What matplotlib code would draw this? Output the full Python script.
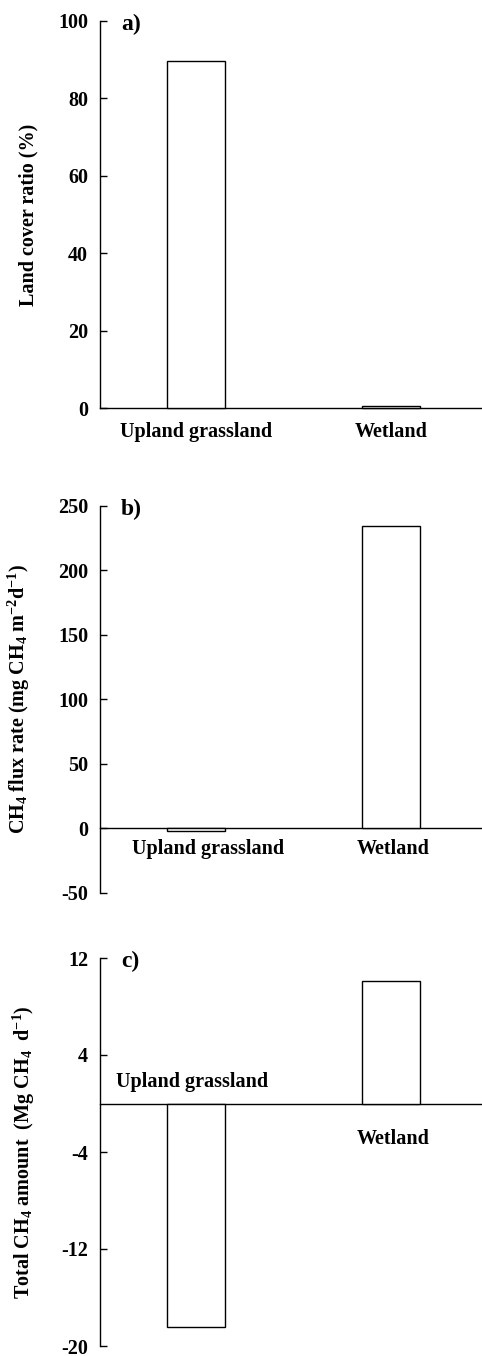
import matplotlib
matplotlib.use('Agg')
import matplotlib.pyplot as plt

plt.rcParams['font.family'] = 'Liberation Serif'
plt.rcParams['font.weight'] = 'bold'
plt.rcParams['axes.unicode_minus'] = False
plt.rcParams['mathtext.fontset'] = 'custom'
plt.rcParams['mathtext.rm'] = 'Liberation Serif:bold'
plt.rcParams['mathtext.it'] = 'Liberation Serif:bold'
plt.rcParams['mathtext.bf'] = 'Liberation Serif:bold'
plt.rcParams['mathtext.default'] = 'rm'

# Data
categories = ['Upland grassland', 'Wetland']
land_cover = [89.7, 0.5]          # %
flux_rate = [-1.8, 234.3]         # mg CH4 m-2 d-1
total_amount = [-18.4, 10.1]      # Mg CH4 d-1

x = [0, 1]
FS = 14.5

fig = plt.figure(figsize=(4.82, 13.56), dpi=100)
H = 1356.0
W = 482.0
left = 100 / W
width = 1.0 - left


def make_axes(top_px, bottom_px):
    return fig.add_axes([left, 1 - bottom_px / H, width, (bottom_px - top_px) / H])


panels = [
    dict(ax=make_axes(21, 408), vals=land_cover, ylim=(0, 100), yticks=[0, 20, 40, 60, 80, 100],
         ylabel='Land cover ratio (%)', tag='a)', lab_x=-0.162,
         label_offsets=[(0, -24), (0, -24)]),
    dict(ax=make_axes(505.7, 893), vals=flux_rate, ylim=(-50, 250), yticks=[-50, 0, 50, 100, 150, 200, 250],
         ylabel=r'CH$_4$ flux rate (mg CH$_4$ m$^{-2}$d$^{-1}$)', tag='b)', lab_x=-0.178,
         label_offsets=[(12, -21), (2, -21)]),
    dict(ax=make_axes(958, 1346), vals=total_amount, ylim=(-20, 12), yticks=[-20, -12, -4, 4, 12],
         ylabel=r'Total CH$_4$ amount  (Mg CH$_4$  d$^{-1}$)', tag='c)', lab_x=-0.165,
         label_offsets=[(-4, 21), (2, -36)]),
]

for p in panels:
    ax = p['ax']
    ax.bar(x, p['vals'], width=0.3, color='white', edgecolor='black', linewidth=1.0,
           zorder=3, clip_on=False)
    ax.axhline(0, color='black', linewidth=1.0, zorder=2, clip_on=False)
    ax.set_xlim(-0.492, 1.467)
    ax.set_ylim(*p['ylim'])
    ax.set_yticks(p['yticks'])
    ax.set_xticks([])
    for s in ['top', 'right', 'bottom']:
        ax.spines[s].set_visible(False)
    ax.spines['left'].set_linewidth(1.0)
    ax.tick_params(axis='y', direction='in', length=5, width=1.0, pad=8.6, labelsize=FS)
    for lbl in ax.get_yticklabels():
        lbl.set_fontweight('bold')
    ax.set_ylabel(p['ylabel'], fontsize=FS, fontweight='bold')
    ax.yaxis.set_label_coords(p['lab_x'], 0.5)
    ax.text(0.055, 0.99, p['tag'], transform=ax.transAxes, ha='left', va='center',
            fontsize=17, fontweight='bold')
    for xi, name, (dx, dy) in zip(x, categories, p['label_offsets']):
        ax.annotate(name, xy=(xi, 0), xytext=(dx, dy), textcoords='offset pixels',
                    ha='center', va='center', fontsize=FS, fontweight='bold')

fig.savefig('out.png', dpi=100)
